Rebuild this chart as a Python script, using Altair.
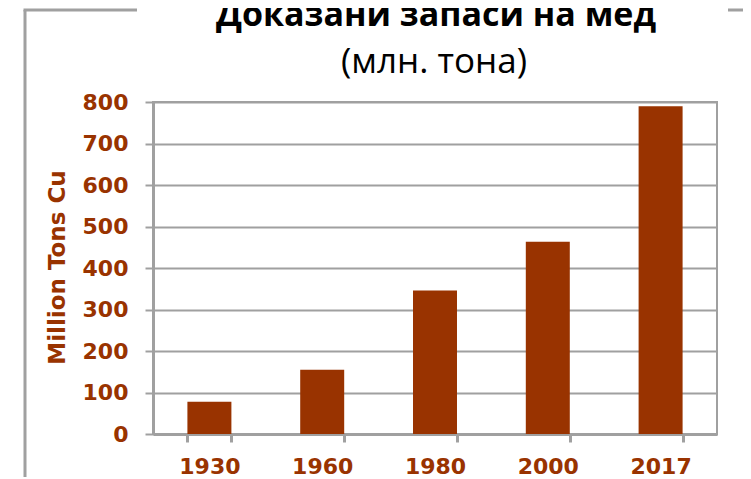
import altair as alt
import pandas as pd

years = ["1930", "1960", "1980", "2000", "2017"]
reserves = [78, 155, 346, 463, 790]
y_ticks = [0, 100, 200, 300, 400, 500, 600, 700, 800]
title_text = "Доказани запаси на мед"
subtitle_text = "(млн. тона)"
y_title = "Million Tons Cu"

BROWN = "#993300"
GRAY = "#a0a0a0"

df = pd.DataFrame({"year": years, "value": reserves})
one = alt.Data(values=[{"k": 1}])

bars = alt.Chart(df).mark_bar(color=BROWN).encode(
    x=alt.X(
        "year:N",
        sort=None,
        scale=alt.Scale(paddingInner=0.61, paddingOuter=0.305),
        axis=alt.Axis(
            title=None,
            labelAngle=0,
            tickBand="extent",
            tickSize=8,
            tickWidth=3,
            tickColor=GRAY,
            domainColor=GRAY,
            domainWidth=3,
            grid=False,
            labelFont="DejaVu Sans",
            labelFontWeight="bold",
            labelFontSize=22,
            labelColor=BROWN,
            labelPadding=14,
        ),
    ),
    y=alt.Y(
        "value:Q",
        scale=alt.Scale(domain=[0, 800], nice=False),
        axis=alt.Axis(
            values=y_ticks,
            title=y_title,
            titleFont="DejaVu Sans",
            titleFontWeight="bold",
            titleFontSize=23,
            titleColor=BROWN,
            titleAngle=-90,
            titleAlign="center",
            titleBaseline="middle",
            titleX=-96,
            titleY=165,
            tickSize=8,
            tickWidth=2,
            tickColor=GRAY,
            domainColor=GRAY,
            domainWidth=3,
            gridColor=GRAY,
            gridWidth=2,
            labelFont="DejaVu Sans",
            labelFontWeight="bold",
            labelFontSize=22,
            labelColor=BROWN,
            labelPadding=17,
        ),
    ),
)

title = alt.Chart(one).mark_text(
    font="Open Sans", fontWeight="bold", fontSize=34, color="black", align="center", baseline="alphabetic"
).encode(x=alt.value(283), y=alt.value(-76), text=alt.value(title_text))

subtitle = alt.Chart(one).mark_text(
    font="Open Sans", fontSize=35, color="black", align="center", baseline="alphabetic"
).encode(x=alt.value(281), y=alt.value(-29.5), text=alt.value(subtitle_text))

frame_left = alt.Chart(one).mark_rule(color=GRAY, strokeWidth=3).encode(
    x=alt.value(-128), y=alt.value(-92), y2=alt.value(390)
)
frame_top_l = alt.Chart(one).mark_rule(color=GRAY, strokeWidth=3).encode(
    x=alt.value(-129.5), x2=alt.value(-16), y=alt.value(-92)
)
frame_top_r = alt.Chart(one).mark_rule(color=GRAY, strokeWidth=3).encode(
    x=alt.value(575), x2=alt.value(610), y=alt.value(-92)
)

chart = alt.layer(frame_left, frame_top_l, frame_top_r, bars, title, subtitle).properties(
    width=564,
    height=332,
    autosize=alt.AutoSizeParams(type="none"),
    padding={"left": 145, "top": 94, "right": 26, "bottom": 43},
).configure_view(stroke=GRAY, strokeWidth=2)

chart.save("out.html", embed_options={"renderer": "svg", "actions": False})
